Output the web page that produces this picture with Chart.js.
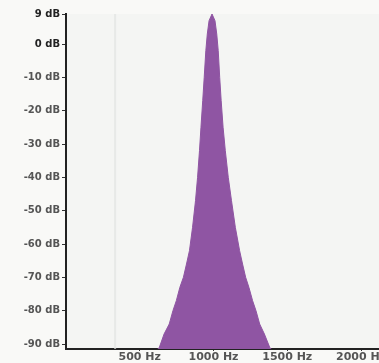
<!DOCTYPE html>
<html>
<head>
<meta charset="utf-8">
<script src="https://cdn.jsdelivr.net/npm/chart.js@4/dist/chart.umd.min.js"></script>
<style>
  html, body { margin: 0; padding: 0; background: #f9f9f7; overflow: hidden; }
  #wrap { position: absolute; left: 0; top: 0; width: 420px; height: 363px; }
</style>
</head>
<body>
<div id="wrap"><canvas id="spec"></canvas></div>
<script>
// spectrum (Hz, dB)
var freqs = [0, 550, 633, 665, 700, 725, 748, 772, 796, 817, 837, 858, 878, 892, 905, 915, 927, 937, 948, 958, 970, 990,
             1010, 1022, 1032, 1042, 1052, 1065, 1080, 1100, 1122, 1148, 1177, 1197, 1218, 1240, 1265, 1288, 1313, 1345, 1381, 1460, 2400];
var levels = [-100, -95, -91, -87, -84, -80, -77, -73, -70, -66, -62, -55, -47, -40, -32, -25, -17, -10, -2, 3, 7, 9,
              7, 3, -2, -10, -17, -25, -32, -40, -47, -55, -62, -66, -70, -73, -77, -80, -84, -87, -91, -95, -100];
var yTicks = [9, 0, -10, -20, -30, -40, -50, -60, -70, -80, -90];
var xTicks = [500, 1000, 1500, 2000];
var markerFreq = 333;

var pts = freqs.map(function (f, i) { return { x: f, y: levels[i] }; });

var bgPlugin = {
    id: 'plotbg',
    beforeDraw: function (chart) {
        var a = chart.chartArea, c = chart.ctx;
        c.save();
        c.fillStyle = '#f4f5f3';
        c.fillRect(a.left, a.top, a.right - a.left, a.bottom - a.top);
        c.restore();
    }
};

var ctx = document.getElementById('spec').getContext('2d');
var chart = new Chart(ctx, {
    type: 'line',
    data: {
        datasets: [{
            data: [{ x: markerFreq, y: -91.5 }, { x: markerFreq, y: 9 }],
            borderColor: 'rgba(225,228,225,0.7)',
            borderWidth: 2,
            pointRadius: 0,
            fill: false
        }, {
            data: pts,
            borderColor: '#8f55a3',
            backgroundColor: '#8f55a3',
            borderWidth: 1,
            pointRadius: 0,
            tension: 0,
            fill: 'start'
        }]
    },
    options: {
        responsive: true,
        maintainAspectRatio: false,
        animation: false,
        layout: { padding: { top: 14, left: 0, right: 0, bottom: 0 } },
        plugins: { legend: { display: false }, tooltip: { enabled: false } },
        scales: {
            x: {
                type: 'linear',
                min: 0,
                max: 2400,
                afterBuildTicks: function (s) { s.ticks = xTicks.map(function (v) { return { value: v }; }); },
                afterFit: function (s) { s.height = 14; },
                border: { color: '#222', width: 2 },
                grid: { drawOnChartArea: false, tickLength: 2, color: '#333' },
                ticks: {
                    padding: 0,
                    maxRotation: 0,
                    autoSkip: false,
                    color: '#555',
                    font: { family: 'DejaVu Sans', size: 11, weight: 'bold' },
                    callback: function (v) { return v + ' Hz'; }
                }
            },
            y: {
                min: -91.5,
                max: 9,
                afterBuildTicks: function (s) { s.ticks = yTicks.map(function (v) { return { value: v }; }); },
                afterFit: function (s) { s.width = 66; },
                border: { color: '#222', width: 2 },
                grid: { drawOnChartArea: false, tickLength: 4, color: '#333' },
                ticks: {
                    padding: 2,
                    autoSkip: false,
                    color: function (c) { return (c.tick.value === 9 || c.tick.value === 0) ? '#222' : '#555'; },
                    font: { family: 'DejaVu Sans', size: 10, weight: 'bold' },
                    callback: function (v) { return v + ' dB'; }
                }
            }
        }
    },
    plugins: [bgPlugin]
});
</script>
</body>
</html>
